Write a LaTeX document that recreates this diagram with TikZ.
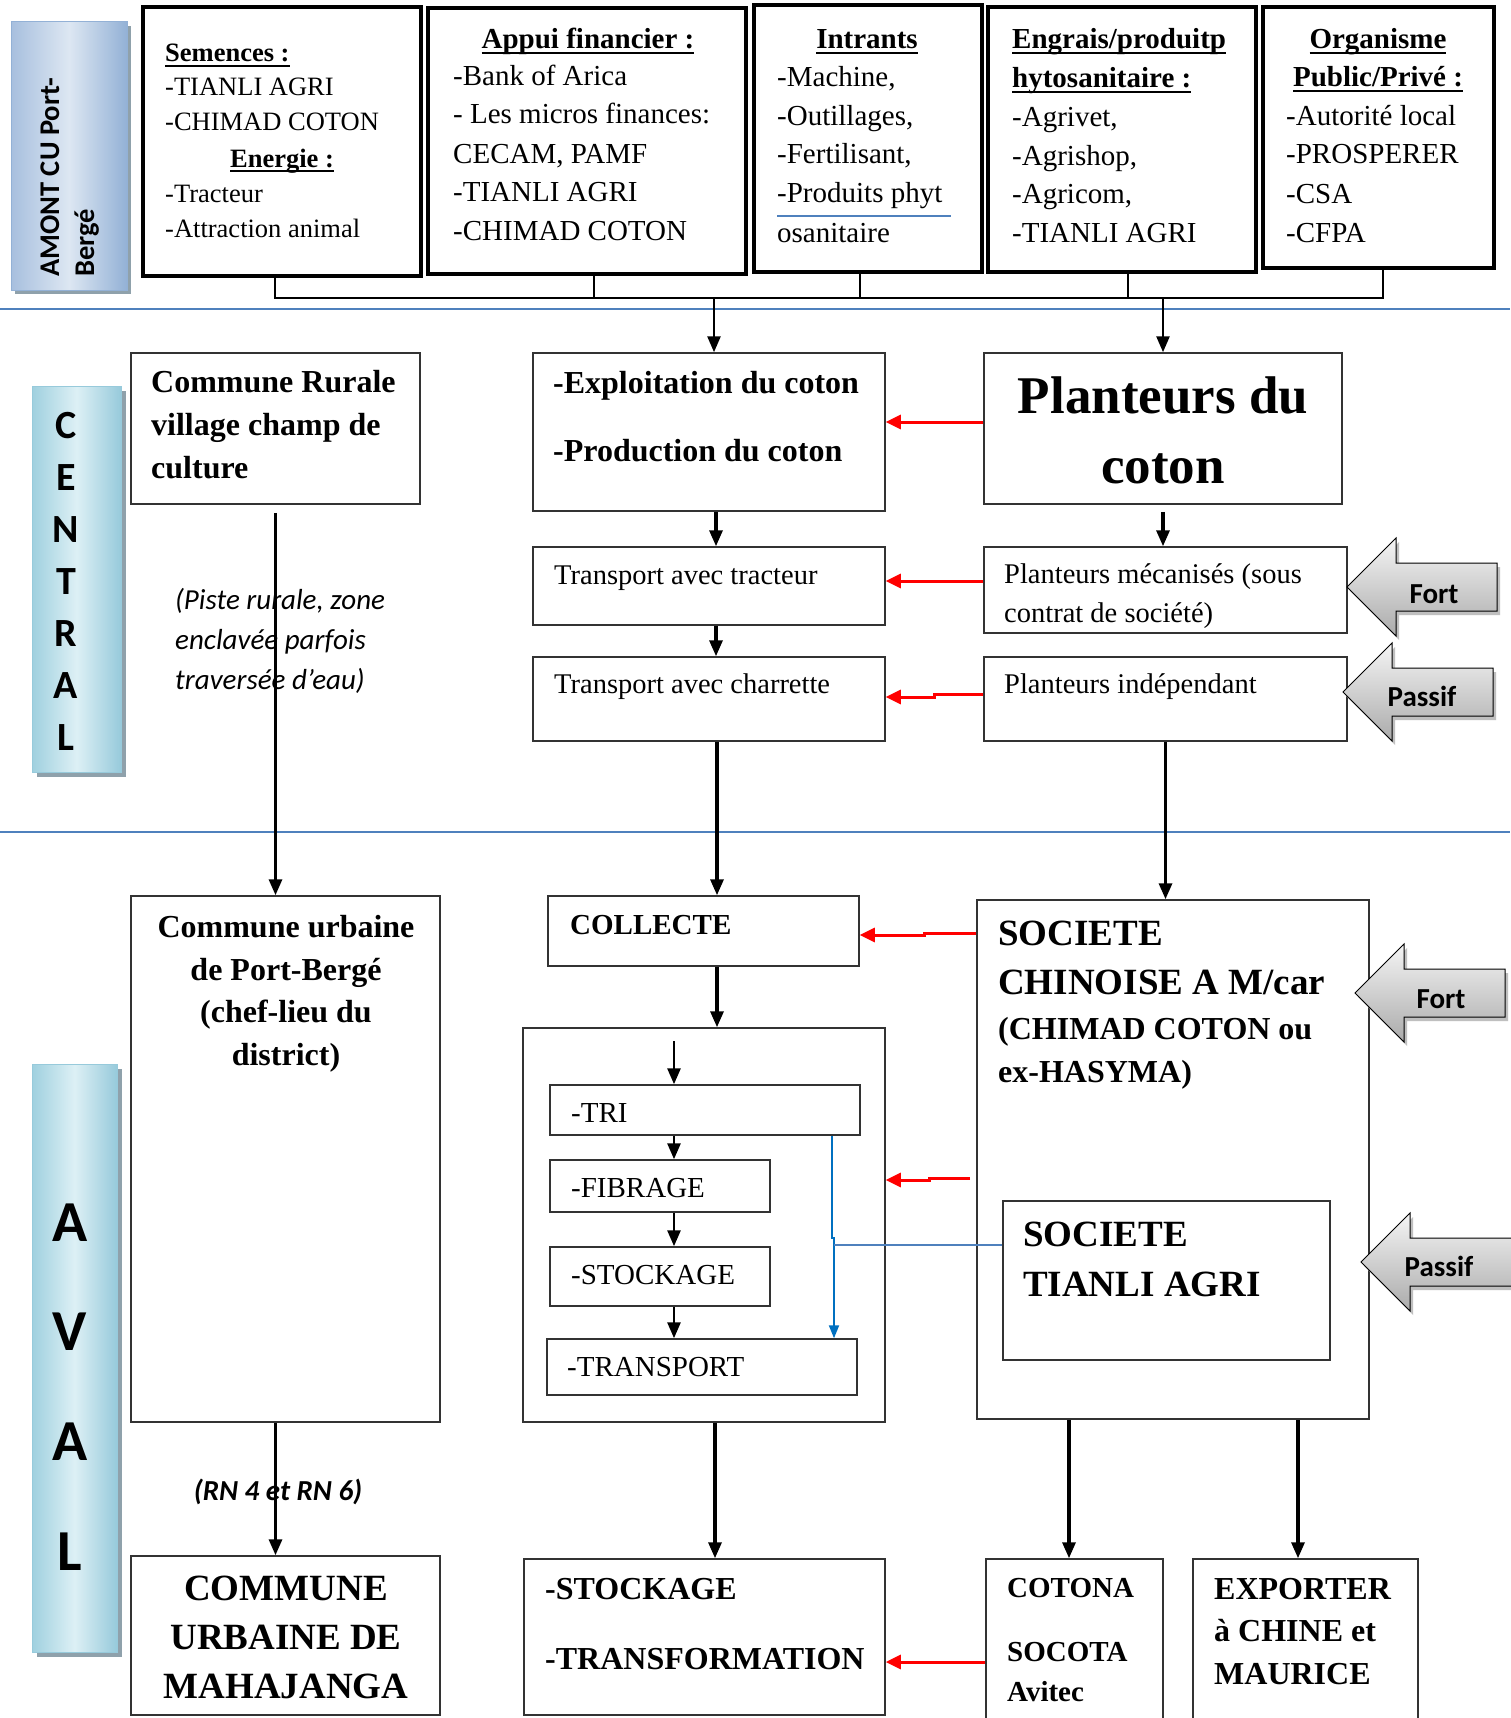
\documentclass[tikz,border=0pt]{standalone}
\usepackage{fontspec}
\setmainfont{Liberation Serif}
\newfontfamily\calfont{Carlito}
\usetikzlibrary{arrows.meta,fit}
\definecolor{sepblue}{HTML}{4F81BD}
\definecolor{linkblue}{HTML}{0070C0}
\definecolor{amL}{HTML}{A7BFDE}
\definecolor{amM}{HTML}{DDE7F2}
\definecolor{amR}{HTML}{93B1D6}
\definecolor{ceL}{HTML}{9FD0DF}
\definecolor{ceM}{HTML}{DDF0F5}
\definecolor{ceR}{HTML}{97CADB}
\definecolor{shad}{HTML}{8FA1AB}
\newcommand\fs[2]{\fontsize{#1}{#2}\selectfont}
\newcommand\ulx[1]{\setbox0=\hbox{#1}\rlap{\rule[-5pt]{\wd0}{2pt}}\box0}
\newcommand\barrow[6]{%
  \begin{scope}[shift={(3,4)}]
    \fill[black!25] (#1,#2) -- ({#1+49},{#2-49}) -- ({#1+49},{#2-24}) -- (#3,{#2-24}) -- (#3,{#2+24}) -- ({#1+49},{#2+24}) -- ({#1+49},{#2+49}) -- cycle;
  \end{scope}
  \shadedraw[top color=black!4, bottom color=black!33, draw=black, line width=1pt] (#1,#2) -- ({#1+49},{#2-49}) -- ({#1+49},{#2-24}) -- (#3,{#2-24}) -- (#3,{#2+24}) -- ({#1+49},{#2+24}) -- ({#1+49},{#2+49}) -- cycle;
  \node[tm, font=\calfont\bfseries\fs{29}{34}] (#4) at (#6) {#5};}
\begin{document}
\begin{tikzpicture}[x=1pt,y=-1pt,
  topbox/.style={draw=black, line width=4pt, inner sep=0pt},
  midbox/.style={draw=black!80, line width=1.5pt, inner sep=0pt},
  tl/.style={anchor=base west, inner sep=0pt},
  tm/.style={anchor=base, inner sep=0pt},
  r26/.style={font=\fs{26.5}{30}},
  b26/.style={font=\bfseries\fs{26.5}{30}},
  r29/.style={font=\fs{29}{34}},
  b29/.style={font=\bfseries\fs{29}{34}},
  r28/.style={font=\fs{28.5}{34}},
  b32/.style={font=\bfseries\fs{32}{38}},
  b37/.style={font=\bfseries\fs{37}{44}},
  cal/.style={font=\calfont\itshape\fs{29}{34}},
  arr/.style={line width=3.2pt, -{Triangle[length=16pt,width=13pt]}},
  bus/.style={line width=2pt},
  redarr/.style={draw=red, line width=3pt, -{Triangle[length=15pt,width=14pt]}},
  bluearr/.style={draw=linkblue, line width=2pt, -{Triangle[length=13pt,width=10pt]}},
  sep/.style={draw=sepblue, line width=2pt},
  lbox/.style={inner sep=0pt, line width=1pt}]
\useasboundingbox (0,0) rectangle (1510,1718);
\fill[white] (0,0) rectangle (1510,1718);

% separators
\draw[sep] (0,309) -- (1510,309);
\draw[sep] (0,832) -- (1510,832);

% side labels
\fill[shad] (15,26) rectangle (131,294);
\node[lbox, fit={(11,22) (127,290)}, draw=amR, left color=amL, right color=amR, middle color=amM] (amont) {};
\node[rotate=90, anchor=base west, inner sep=0pt, font=\calfont\bfseries\fs{28.5}{34}] (am1) at (59,277) {AMONT CU Port-};
\node[rotate=90, anchor=base west, inner sep=0pt, font=\calfont\bfseries\fs{28.5}{34}] (am2) at (94,277) {Bergé};

\fill[shad] (37,391) rectangle (126,777);
\node[lbox, fit={(32,386) (121,772)}, draw=ceR, left color=ceL, right color=ceR, middle color=ceM] (central) {};
\foreach \l/\y [count=\i] in {C/438,E/490,N/542,T/594,R/646,A/698,L/750}
  \node[tm, font=\calfont\bfseries\fs{40}{48}] (cl\i) at (66,\y) {\l};

\fill[shad] (37,1069) rectangle (122,1657);
\node[lbox, fit={(32,1064) (117,1652)}, draw=ceR, left color=ceL, right color=ceR, middle color=ceM] (aval) {};
\foreach \l/\y [count=\i] in {A/1241,V/1350,A/1460,L/1570}
  \node[tm, font=\calfont\bfseries\fs{58}{66}] (al\i) at (70,\y) {\l};

% top boxes
\node[topbox, fit={(143,7) (421,276)}] (b1) {};
\node[topbox, fit={(428,8) (746,274)}] (b2) {};
\node[topbox, fit={(754,5) (982,272)}] (b3) {};
\node[topbox, fit={(988,7) (1256,272)}] (b4) {};
\node[topbox, fit={(1263,7) (1494,268)}] (b5) {};

\node[tl,b26] (s1h) at (165,62) {\ulx{Semences :}};
\node[tl,r26] (s1a) at (165,96) {-TIANLI AGRI};
\node[tl,r26] (s1b) at (165,131) {-CHIMAD COTON};
\node[tm,b26] (s1e) at (282,167) {\ulx{Energie :}};
\node[tl,r26] (s1c) at (165,202) {-Tracteur};
\node[tl,r26] (s1d) at (165,237) {-Attraction animal};

\node[tm,b29] (s2h) at (588,49) {\ulx{Appui financier :}};
\node[tl,r29] (s2a) at (453,86) {-Bank of Arica};
\node[tl,r29] (s2b) at (453,124) {- Les micros finances:};
\node[tl,r29] (s2c) at (453,163) {CECAM, PAMF};
\node[tl,r29] (s2d) at (453,201) {-TIANLI AGRI};
\node[tl,r29] (s2e) at (453,240) {-CHIMAD COTON};

\node[tm,b29] (s3h) at (867,49) {\ulx{Intrants}};
\node[tl,r29] (s3a) at (777,87) {-Machine,};
\node[tl,r29] (s3b) at (777,125) {-Outillages,};
\node[tl,r29] (s3c) at (777,163) {-Fertilisant,};
\node[tl,r29] (s3d) at (777,202) {-Produits phyt};
\node[tl,r29] (s3e) at (777,242) {osanitaire};
\draw[draw=sepblue, line width=1.5pt] (777,216) -- (951,216);

\node[tl,b29] (s4h) at (1012,49) {\ulx{Engrais/produitp}};
\node[tl,b29] (s4i) at (1012,88) {\ulx{hytosanitaire :}};
\node[tl,r29] (s4a) at (1012,127) {-Agrivet,};
\node[tl,r29] (s4b) at (1012,165) {-Agrishop,};
\node[tl,r29] (s4c) at (1012,203) {-Agricom,};
\node[tl,r29] (s4d) at (1012,242) {-TIANLI AGRI};

\node[tm,b29] (s5h) at (1378,49) {\ulx{Organisme}};
\node[tm,b29] (s5i) at (1378,87) {\ulx{Public/Privé :}};
\node[tl,r29] (s5a) at (1286,126) {-Autorité local};
\node[tl,r29] (s5b) at (1286,164) {-PROSPERER};
\node[tl,r29] (s5c) at (1286,203) {-CSA};
\node[tl,r29] (s5d) at (1286,242) {-CFPA};

% bus
\coordinate (busL) at (275,298);
\coordinate (busR) at (1383,298);
\draw[bus] (b1.south -| busL) -- (busL) -- (busR) -- (b5.south -| busR);
\draw[bus] (b2.south -| 594,0) -- (594,298);
\draw[bus] (b3.south -| 860,0) -- (860,298);
\draw[bus] (b4.south -| 1128,0) -- (1128,298);

% central boxes
\node[midbox, fit={(131,353) (420,504)}] (cr) {};
\node[midbox, fit={(533,353) (885,511)}] (ex) {};
\node[midbox, fit={(533,547) (885,625)}] (tt) {};
\node[midbox, fit={(533,657) (885,741)}] (tc) {};
\node[midbox, fit={(984,353) (1342,504)}] (pc) {};
\node[midbox, fit={(984,547) (1347,633)}] (pm) {};
\node[midbox, fit={(984,657) (1347,741)}] (pi) {};

\node[tl,b32] (cr1) at (151,392) {Commune Rurale};
\node[tl,b32] (cr2) at (151,435) {village champ de};
\node[tl,b32] (cr3) at (151,478) {culture};
\node[tl,b32] (ex1) at (553,393) {-Exploitation du coton};
\node[tl,b32] (ex2) at (553,461) {-Production du coton};
\node[tl,r28] (tt1) at (554,584) {Transport avec tracteur};
\node[tl,r28] (tc1) at (554,693) {Transport avec charrette};
\node[tm,font=\bfseries\fs{53}{60}] (pc1) at (1163,413) {Planteurs du};
\node[tm,font=\bfseries\fs{53}{60}] (pc2) at (1163,483) {coton};
\node[tl,r28] (pm1) at (1004,583) {Planteurs mécanisés (sous};
\node[tl,r28] (pm2) at (1004,622) {contrat de société)};
\node[tl,r28] (pi1) at (1004,693) {Planteurs indépendant};
\node[tl,cal] (it1) at (175,609) {(Piste rurale, zone};
\node[tl,cal] (it2) at (175,649) {enclavée parfois};
\node[tl,cal] (it3) at (175,689) {traversée d’eau)};

% aval boxes
\node[midbox, fit={(131,896) (440,1422)}] (cu) {};
\node[midbox, fit={(548,896) (859,966)}] (col) {};
\node[midbox, fit={(523,1028) (885,1422)}] (cont) {};
\node[midbox, fit={(550,1085) (860,1135)}] (tri) {};
\node[midbox, fit={(550,1160) (770,1212)}] (fib) {};
\node[midbox, fit={(550,1247) (770,1306)}] (sto) {};
\node[midbox, fit={(547,1339) (857,1395)}] (tra) {};
\node[midbox, fit={(977,900) (1369,1419)}] (soc) {};
\node[midbox, fit={(1003,1201) (1330,1360)}] (tia) {};
\node[midbox, fit={(131,1556) (440,1715)}] (mah) {};
\node[midbox, fit={(524,1559) (885,1715)}] (st) {};
\node[midbox, fit={(986,1559) (1163,1735)}] (cot) {};
\node[midbox, fit={(1193,1559) (1418,1735)}] (exb) {};

\node[tm,b32] (cu1) at (286,937) {Commune urbaine};
\node[tm,b32] (cu2) at (286,980) {de Port-Bergé};
\node[tm,b32] (cu3) at (286,1022) {(chef-lieu du};
\node[tm,b32] (cu4) at (286,1065) {district)};
\node[tl,b29] (col1) at (570,934) {COLLECTE};
\node[tl,r29] (tri1) at (571,1122) {-TRI};
\node[tl,r29] (fib1) at (571,1197) {-FIBRAGE};
\node[tl,r29] (sto1) at (571,1284) {-STOCKAGE};
\node[tl,r29] (tra1) at (567,1376) {-TRANSPORT};
\node[tl,b37] (soc1) at (998,945) {SOCIETE};
\node[tl,b37] (soc2) at (998,994) {CHINOISE A M/car};
\node[tl,b32] (soc3) at (998,1039) {(CHIMAD COTON ou};
\node[tl,b32] (soc4) at (998,1082) {ex-HASYMA)};
\node[tl,b37] (tia1) at (1023,1246) {SOCIETE};
\node[tl,b37] (tia2) at (1023,1296) {TIANLI AGRI};
\node[tm,b37] (mah1) at (286,1600) {COMMUNE};
\node[tm,b37] (mah2) at (286,1649) {URBAINE DE};
\node[tm,b37] (mah3) at (286,1698) {MAHAJANGA};
\node[tl,b32] (st1) at (545,1599) {-STOCKAGE};
\node[tl,b32] (st2) at (545,1669) {-TRANSFORMATION};
\node[tl,b29] (cot1) at (1007,1597) {COTONA};
\node[tl,b29] (cot2) at (1007,1661) {SOCOTA};
\node[tl,b29] (cot3) at (1007,1701) {Avitec};
\node[tl,b32] (exb1) at (1214,1599) {EXPORTER};
\node[tl,b32] (exb2) at (1214,1641) {à CHINE et};
\node[tl,b32] (exb3) at (1214,1684) {MAURICE};
\node[tm,font=\calfont\bfseries\itshape\fs{29}{34}] (rn) at (278,1500) {(RN 4 et RN 6)};

% block arrows
\barrow{1347}{587}{1497}{fort1}{Fort}{1434,603}
\barrow{1343}{692}{1493}{pas1}{Passif}{1422,706}
\barrow{1355}{993}{1505}{fort2}{Fort}{1441,1008}
\barrow{1361}{1262}{1525}{pas2}{Passif}{1439,1276}

% connectors top
\coordinate (tapA) at (714,298);
\coordinate (tapB) at (1163,298);
\draw[arr, line width=2.6pt] (tapA) -- (ex.north -| tapA);
\draw[arr, line width=2.6pt] (tapB) -- (pc.north -| tapB);

% connectors central
\coordinate (xa) at (716,0);
\coordinate (xb) at (717,0);
\draw[arr] (ex.south -| xa) -- (tt.north -| xa);
\draw[arr] (tt.south -| xa) -- (tc.north -| xa);
\draw[arr] (tc.south -| xb) -- (col.north -| xb);
\draw[arr] ([yshift=-7pt]pc.south) -- (pm.north -| pc.south);
\draw[arr] (pi.south) -- (soc.north -| pi.south);
\draw[arr] ([yshift=-8pt]cr.south) -- (cu.north -| cr.south);
\draw[redarr] (pc.west |- 0,422) -- (ex.east |- 0,422);
\draw[redarr] (pm.west |- 0,581) -- (tt.east |- 0,581);
\draw[redarr] (pi.west |- 0,694) -- (934,694) -- (934,697) -- (tc.east |- 0,697);

% connectors aval
\draw[arr] (col.south -| xb) -- (cont.north -| xb);
\coordinate (cin) at (674,1041);
\draw[arr, line width=2.8pt] (cin) -- (tri.north -| cin);
\draw[arr, line width=2.8pt] (tri.south -| cin) -- (fib.north -| cin);
\draw[arr, line width=2.8pt] (fib.south -| cin) -- (sto.north -| cin);
\draw[arr, line width=2.8pt] (sto.south -| cin) -- (tra.north -| cin);
\coordinate (bj) at (834,1245);
\draw[bluearr] (tri.south -| 832,0) -- (832,1238) -- (834,1238) -- (tra.north -| bj);
\draw[draw=sepblue, line width=1.5pt] (tia.west |- bj) -- (bj);
\coordinate (xc) at (715,0);
\draw[arr] (cont.south -| xc) -- (st.north -| xc);
\draw[arr] (cu.south -| cr.south) -- (mah.north -| cr.south);
\coordinate (xd) at (1069,0);
\coordinate (xe) at (1298,0);
\draw[arr] (soc.south -| xd) -- (cot.north -| xd);
\draw[arr] (soc.south -| xe) -- (exb.north -| xe);
\draw[redarr] (soc.west |- 0,933) -- (924,933) -- (924,935) -- (col.east |- 0,935);
\coordinate (r5) at (970,1178);
\draw[redarr] (r5) -- (929,1178) -- (929,1180) -- (cont.east |- 0,1180);
\draw[redarr] (cot.west |- 0,1662) -- (st.east |- 0,1662);
\end{tikzpicture}
\end{document}
